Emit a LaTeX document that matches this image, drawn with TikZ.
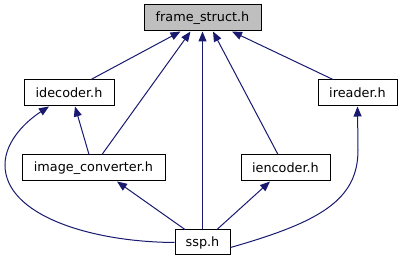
\documentclass[tikz,border=0pt]{standalone}
\usepackage{fontspec}
\setmainfont{DejaVu Sans}
\usetikzlibrary{arrows.meta}
\definecolor{edgeblue}{HTML}{191970}
\definecolor{rootgrey}{HTML}{BFBFBF}
\begin{document}
\begin{tikzpicture}[x=1pt,y=-1pt,
  filebox/.style={draw=black,line width=1pt,fill=white,minimum height=26pt,
    inner sep=0pt,font=\fontsize{12.8}{14}\selectfont},
  dep/.style={draw=edgeblue,line width=1pt,-{Triangle[length=10pt,width=8pt,fill=edgeblue]}}]
\useasboundingbox (0,0) rectangle (402,261);

\node[filebox,fill=rootgrey,minimum width=117pt] (fs) at (202.5,18) {frame\_struct.h};
\node[filebox,minimum width=90pt] (idec) at (69,93) {idecoder.h};
\node[filebox,minimum width=79pt] (ird) at (357.5,93) {ireader.h};
\node[filebox,minimum width=143pt] (imc) at (93.5,168) {image\_converter.h};
\node[filebox,minimum width=89pt] (ienc) at (285.5,168) {iencoder.h};
\node[filebox,minimum width=55pt,minimum height=25pt] (ssp) at (202.5,242.5) {ssp.h};

% direct includes of frame_struct.h
\draw[dep] ([xshift=22]idec.north) -- ([xshift=-22]fs.south);
\draw[dep] ([xshift=8.5]imc.north) -- ([xshift=-12]fs.south);
\draw[dep] (ssp.north) -- (fs.south);
\draw[dep] ([xshift=-7.5]ienc.north) -- ([xshift=10.5]fs.south);
\draw[dep] ([xshift=-24.5]ird.north) -- ([xshift=29.5]fs.south);

% second level
\draw[dep] ([xshift=-4.5]imc.north) -- ([xshift=6]idec.south);
\draw[dep] ([xshift=-17.5]ssp.north) -- ([xshift=23.5]imc.south);
\draw[dep] ([xshift=14.5]ssp.north) -- ([xshift=-15.5]ienc.south);

% long curved includes from ssp.h
\draw[dep] (ssp.west) .. controls (90,242) and (5,215) .. (5,165)
  .. controls (5,140) and (28,120) .. ([xshift=-20]idec.south);
\draw[dep] ([yshift=-5]ssp.east) .. controls (320,222) and (358,200) .. (358,150)
  -- (ird.south);
\end{tikzpicture}
\end{document}
